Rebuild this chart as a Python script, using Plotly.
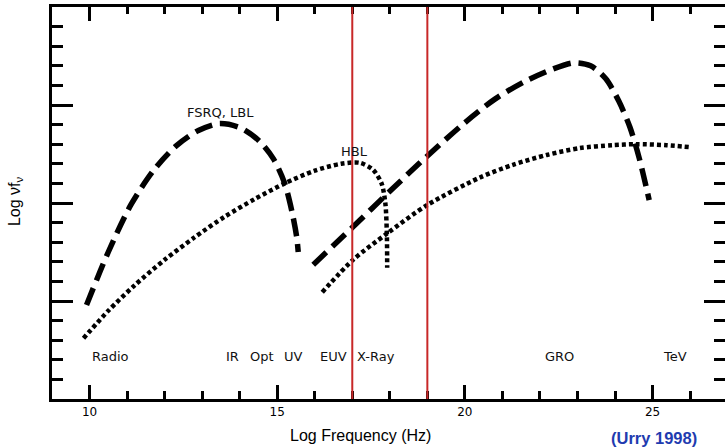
import plotly.graph_objects as go

# ---- data ----
# Log frequency (Hz) and Log nu f_nu (arbitrary units, 4 major divisions)
lbl_sync_x = [9.92, 10.5, 11.1, 11.7, 12.3, 12.9, 13.45, 14.0, 14.5, 14.9, 15.2, 15.4, 15.52, 15.56]
lbl_sync_y = [0.96, 1.50, 1.98, 2.33, 2.58, 2.74, 2.81, 2.77, 2.64, 2.45, 2.20, 1.90, 1.65, 1.50]

lbl_ic_x = [15.96, 17.0, 18.0, 19.0, 20.0, 20.8, 21.6, 22.3, 22.9, 23.35, 23.75, 24.1, 24.4, 24.65, 24.91]
lbl_ic_y = [1.37, 1.75, 2.12, 2.48, 2.82, 3.06, 3.24, 3.36, 3.43, 3.40, 3.27, 3.04, 2.77, 2.45, 2.03]

hbl_sync_x = [9.84, 10.5, 11.2, 12.0, 12.8, 13.6, 14.4, 15.2, 16.0, 16.7, 17.2, 17.55, 17.78, 17.88, 17.92, 17.93]
hbl_sync_y = [0.62, 0.90, 1.16, 1.42, 1.65, 1.86, 2.04, 2.20, 2.33, 2.40, 2.41, 2.34, 2.20, 2.00, 1.70, 1.34]

hbl_ic_x = [16.20, 17.02, 17.93, 19.00, 20.40, 21.28, 22.18, 23.06, 23.94, 24.57, 25.37, 25.98]
hbl_ic_y = [1.09, 1.42, 1.69, 1.98, 2.26, 2.39, 2.49, 2.56, 2.59, 2.60, 2.59, 2.57]

band_edges = [17, 19]

band_labels = ["Radio", "IR", "Opt", "UV", "EUV", "X-Ray", "GRO", "TeV"]
band_label_x = [10.55, 13.80, 14.60, 15.43, 16.49, 17.62, 22.53, 25.61]

x_tick_vals = [10, 15, 20, 25]
x_tick_text = ["10", "15", "20", "25"]

X_RANGE = [9.0, 26.93]
Y_RANGE = [0, 4]

fig = go.Figure()

dash_style = dict(color="black", width=5.5, dash="18px,8px")
dot_style = dict(color="black", width=4.5, dash="4px,3px")
SMOOTH = 0.8

fig.add_trace(go.Scatter(x=lbl_sync_x, y=lbl_sync_y, mode="lines",
                         line=dict(**dash_style, shape="spline", smoothing=SMOOTH), showlegend=False))
fig.add_trace(go.Scatter(x=lbl_ic_x, y=lbl_ic_y, mode="lines",
                         line=dict(**dash_style, shape="spline", smoothing=SMOOTH), showlegend=False))
fig.add_trace(go.Scatter(x=hbl_sync_x, y=hbl_sync_y, mode="lines",
                         line=dict(**dot_style, shape="spline", smoothing=SMOOTH), showlegend=False))
fig.add_trace(go.Scatter(x=hbl_ic_x, y=hbl_ic_y, mode="lines",
                         line=dict(**dot_style, shape="spline", smoothing=SMOOTH), showlegend=False))
# invisible trace to activate mirror axes
fig.add_trace(go.Scatter(x=[X_RANGE[0]], y=[Y_RANGE[0]], xaxis="x2", yaxis="y2",
                         mode="markers", marker=dict(opacity=0), showlegend=False, hoverinfo="skip"))

for xv in band_edges:
    fig.add_shape(type="line", x0=xv, x1=xv, xref="x", y0=0, y1=1, yref="paper",
                  line=dict(color="#c82828", width=2), layer="above")

inner_font = dict(family="DejaVu Sans", size=13, color="#111111")
for txt, xv in zip(band_labels, band_label_x):
    fig.add_annotation(x=xv, y=0.43, text=txt, showarrow=False, font=inner_font,
                       xanchor="center", yanchor="middle")

fig.add_annotation(x=13.5, y=2.92, text="FSRQ, LBL", showarrow=False, font=inner_font)
fig.add_annotation(x=17.05, y=2.53, text="HBL", showarrow=False, font=inner_font)

fig.add_annotation(x=0.459, y=-0.092, xref="paper", yref="paper", text="Log Frequency (Hz)",
                   showarrow=False, font=dict(family="Liberation Sans", size=16, color="black"),
                   xanchor="center", yanchor="middle")
fig.add_annotation(x=0.961, y=-0.1, xref="paper", yref="paper", text="<b>(Urry 1998)</b>",
                   showarrow=False, font=dict(family="Liberation Sans", size=16.5, color="#1f3cb0"),
                   xanchor="right", yanchor="middle")
fig.add_annotation(x=-0.055, y=0.505, xref="paper", yref="paper", text="Log νf<sub>ν</sub>",
                   textangle=-90, showarrow=False,
                   font=dict(family="Liberation Sans", size=16, color="black"),
                   xanchor="center", yanchor="middle")

axis_common = dict(showgrid=False, zeroline=False, linecolor="black", linewidth=2.5,
                   ticks="inside", tickcolor="black", tickwidth=2.5)

fig.update_layout(
    width=725, height=447,
    margin=dict(l=52, r=0, t=7, b=48),
    paper_bgcolor="white", plot_bgcolor="white",
    xaxis=dict(**axis_common, range=X_RANGE, showline=True, tickvals=x_tick_vals, ticktext=x_tick_text,
               ticklen=14, tickfont=dict(family="DejaVu Sans", size=12, color="black"),
               minor=dict(dtick=1, tick0=0, ticks="inside", ticklen=8, tickwidth=2.5, tickcolor="black")),
    xaxis2=dict(**axis_common, range=X_RANGE, showline=True, overlaying="x", side="top",
                tickvals=x_tick_vals, ticklen=14, showticklabels=False,
                minor=dict(dtick=1, tick0=0, ticks="inside", ticklen=7, tickwidth=2.5, tickcolor="black")),
    yaxis=dict(**axis_common, range=Y_RANGE, showline=True, dtick=1, tick0=0, ticklen=21,
               showticklabels=False,
               minor=dict(dtick=0.2, tick0=0, ticks="inside", ticklen=11, tickwidth=2.5, tickcolor="black")),
    yaxis2=dict(**axis_common, range=Y_RANGE, showline=False, overlaying="y", side="right",
                dtick=1, tick0=0, ticklen=21, showticklabels=False,
                minor=dict(dtick=0.2, tick0=0, ticks="inside", ticklen=11, tickwidth=2.5, tickcolor="black")),
)

fig.write_html("out.html")
